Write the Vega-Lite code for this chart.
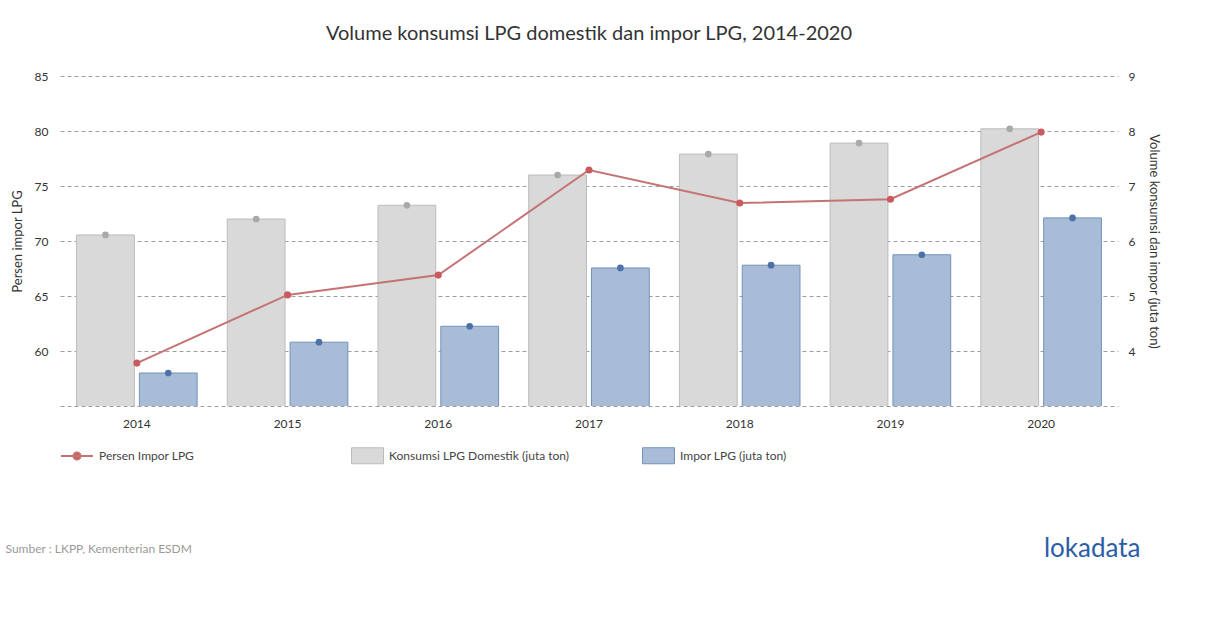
{
  "$schema": "https://vega.github.io/schema/vega-lite/v6.json",
  "autosize": "none",
  "width": 1058,
  "height": 330,
  "padding": {"left": 60, "top": 76, "right": 92, "bottom": 222},
  "background": "#ffffff",
  "config": {
    "font": "Lato",
    "view": {"stroke": null},
    "axis": {"labelFont": "Lato", "titleFont": "Lato", "labelColor": "#333333", "titleColor": "#333333", "labelFontSize": 12, "titleFontSize": 13, "titleFontWeight": "normal"},
    "legend": {"labelFont": "Lato", "labelFontSize": 12, "labelColor": "#444444"}
  },
  "title": {"text": "Volume konsumsi LPG domestik dan impor LPG, 2014-2020", "fontSize": 20, "fontWeight": "normal", "color": "#333333", "font": "Lato", "anchor": "middle", "frame": "group", "offset": 26},
  "datasets": {
    "volume": [
      {"year": "2014", "series": "Konsumsi LPG Domestik (juta ton)", "value": 6.11},
      {"year": "2014", "series": "Impor LPG (juta ton)", "value": 3.60},
      {"year": "2015", "series": "Konsumsi LPG Domestik (juta ton)", "value": 6.40},
      {"year": "2015", "series": "Impor LPG (juta ton)", "value": 4.16},
      {"year": "2016", "series": "Konsumsi LPG Domestik (juta ton)", "value": 6.65},
      {"year": "2016", "series": "Impor LPG (juta ton)", "value": 4.45},
      {"year": "2017", "series": "Konsumsi LPG Domestik (juta ton)", "value": 7.20},
      {"year": "2017", "series": "Impor LPG (juta ton)", "value": 5.51},
      {"year": "2018", "series": "Konsumsi LPG Domestik (juta ton)", "value": 7.58},
      {"year": "2018", "series": "Impor LPG (juta ton)", "value": 5.56},
      {"year": "2019", "series": "Konsumsi LPG Domestik (juta ton)", "value": 7.78},
      {"year": "2019", "series": "Impor LPG (juta ton)", "value": 5.75},
      {"year": "2020", "series": "Konsumsi LPG Domestik (juta ton)", "value": 8.04},
      {"year": "2020", "series": "Impor LPG (juta ton)", "value": 6.42}
    ],
    "persen": [
      {"year": "2014", "persen": 58.9},
      {"year": "2015", "persen": 65.1},
      {"year": "2016", "persen": 66.9},
      {"year": "2017", "persen": 76.45},
      {"year": "2018", "persen": 73.45},
      {"year": "2019", "persen": 73.8},
      {"year": "2020", "persen": 79.9}
    ]
  },
  "layer": [
    {
      "data": {"name": "volume"},
      "encoding": {
        "x": {
          "field": "year", "type": "nominal",
          "scale": {"paddingInner": 0.2, "paddingOuter": 0.11},
          "axis": {"orient": "bottom", "labelAngle": 0, "labelPadding": 12, "ticks": false, "tickSize": 0, "domain": false, "grid": false,
                   "title": "Sumber : LKPP, Kementerian ESDM", "titleFontSize": 12, "titleColor": "#9a9a9a", "titleAlign": "left", "titleAnchor": "start", "titleX": -55, "titleY": 142, "titleBaseline": "middle"}
        },
        "xOffset": {"field": "series", "type": "nominal", "sort": ["Konsumsi LPG Domestik (juta ton)", "Impor LPG (juta ton)"], "scale": {"paddingInner": 0.08}},
        "y": {
          "field": "value", "type": "quantitative",
          "scale": {"domain": [3, 9], "nice": false, "zero": false},
          "axis": {"orient": "right", "values": [4, 5, 6, 7, 8, 9], "grid": false, "ticks": false, "domain": false, "labelPadding": 10,
                   "title": "Volume konsumsi dan impor (juta ton)", "titlePadding": 12}
        }
      },
      "layer": [
        {
          "mark": {"type": "bar", "strokeWidth": 1, "clip": true},
          "encoding": {
            "fill": {"field": "series", "type": "nominal",
                     "scale": {"domain": ["Konsumsi LPG Domestik (juta ton)", "Impor LPG (juta ton)"], "range": ["#d9d9d9", "#a8bcd8"]},
                     "legend": {"title": null, "orient": "none", "legendX": 291, "legendY": 363, "direction": "horizontal", "columns": 2, "gridAlign": "all", "columnPadding": 71,
                                "symbolType": "M-1,-0.5H1V0.5H-1Z", "symbolSize": 1024, "labelOffset": 5, "labelLimit": 400,
                                "encode": {"symbols": {"update": {"stroke": [{"test": "datum.value === 'Impor LPG (juta ton)'", "value": "#7392b9"}, {"value": "#bcbcbc"}], "strokeWidth": {"value": 1}, "opacity": {"value": 1}}}}}},
            "stroke": {"field": "series", "type": "nominal",
                       "scale": {"domain": ["Konsumsi LPG Domestik (juta ton)", "Impor LPG (juta ton)"], "range": ["#bcbcbc", "#7392b9"]},
                       "legend": null}
          }
        },
        {
          "mark": {"type": "point", "filled": true, "size": 45, "opacity": 1},
          "encoding": {
            "color": {"field": "series", "type": "nominal",
                      "scale": {"domain": ["Konsumsi LPG Domestik (juta ton)", "Impor LPG (juta ton)"], "range": ["#a9a9a9", "#4d72a8"]},
                      "legend": null}
          }
        }
      ]
    },
    {
      "data": {"name": "persen"},
      "encoding": {
        "x": {
          "field": "year", "type": "nominal",
          "axis": {"orient": "bottom", "labels": false, "ticks": false, "domain": false, "grid": false,
                   "title": "lokadata", "titleFontSize": 26, "titleColor": "#2b5ea7", "titleAlign": "right", "titleAnchor": "end", "titleX": 1080, "titleY": 142, "titleBaseline": "middle"}
        },
        "y": {
          "field": "persen", "type": "quantitative",
          "scale": {"domain": [55, 85], "nice": false, "zero": false},
          "axis": {"orient": "left", "values": [55, 60, 65, 70, 75, 80, 85], "labelExpr": "datum.value == 55 ? '' : datum.label",
                   "grid": true, "gridDash": [4, 3], "gridColor": "#9e9e9e", "gridWidth": 1, "ticks": false, "domain": false, "labelPadding": 12,
                   "title": "Persen impor LPG", "titlePadding": 10}
        }
      },
      "layer": [
        {
          "mark": {"type": "line", "strokeWidth": 2},
          "encoding": {
            "stroke": {"datum": "Persen Impor LPG", "type": "nominal", "scale": {"domain": ["Persen Impor LPG"], "range": ["#c47474"]},
                       "legend": {"title": null, "orient": "none", "legendX": 0, "legendY": 363,
                                  "symbolType": "M-1,0L1,0M-0.22,0A0.22,0.22,0,1,1,0.22,0A0.22,0.22,0,1,1,-0.22,0Z", "symbolSize": 1024, "labelOffset": 5, "labelLimit": 400,
                                  "encode": {"symbols": {"update": {"fill": {"value": "#c95b5e"}, "stroke": {"value": "#c47474"}, "strokeWidth": {"value": 2}, "opacity": {"value": 1}}}}}}
          }
        },
        {
          "mark": {"type": "point", "filled": true, "size": 50, "color": "#c95b5e", "opacity": 1}
        }
      ]
    }
  ],
  "resolve": {"scale": {"y": "independent", "stroke": "independent"}, "axis": {"x": "independent"}}
}
